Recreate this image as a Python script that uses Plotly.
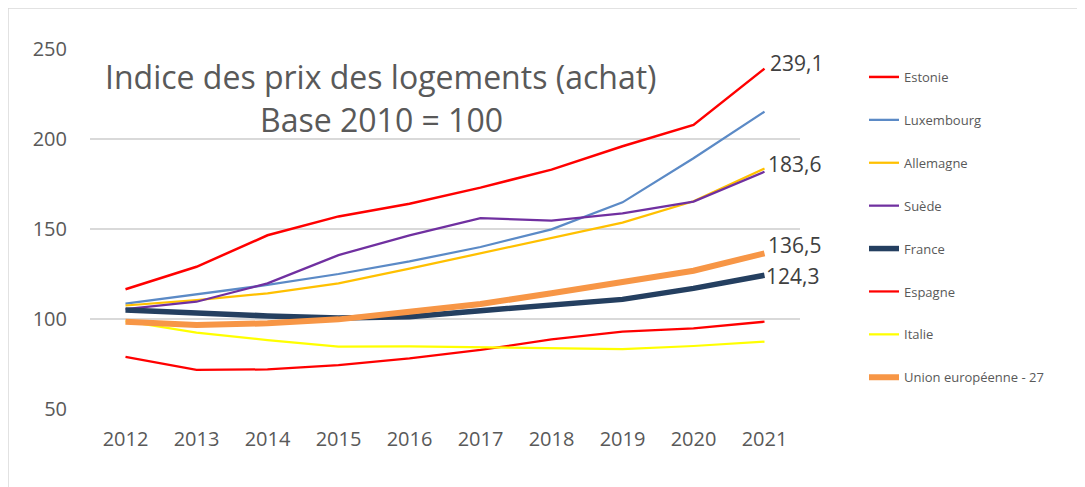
import plotly.graph_objects as go

years = ["2012", "2013", "2014", "2015", "2016", "2017", "2018", "2019", "2020", "2021"]

estonie = [116.5, 129.0, 146.5, 157.0, 164.0, 173.0, 183.0, 196.0, 207.8, 239.1]
luxembourg = [108.5, 113.9, 118.9, 125.0, 132.0, 140.0, 149.8, 164.8, 189.3, 215.2]
allemagne = [107.5, 110.5, 114.3, 119.8, 128.0, 136.5, 145.4, 153.5, 165.4, 183.6]
suede = [105.5, 109.6, 119.8, 135.5, 146.5, 156.0, 154.6, 158.7, 165.2, 181.8]
france = [105.0, 103.1, 101.7, 100.5, 101.3, 104.6, 107.8, 110.9, 117.0, 124.3]
espagne = [79.0, 71.7, 72.0, 74.4, 78.1, 82.8, 88.7, 93.0, 94.8, 98.5]
italie = [98.8, 92.4, 88.3, 84.6, 84.8, 84.3, 83.7, 83.3, 85.0, 87.4]
ue27 = [98.5, 96.7, 97.6, 99.8, 104.0, 108.3, 114.3, 120.2, 126.8, 136.5]

series = [
    ("Estonie", estonie, "#FF0000", 2.5),
    ("Luxembourg", luxembourg, "#5B8AC6", 2.25),
    ("Allemagne", allemagne, "#FFC000", 2.25),
    ("Suède", suede, "#7030A0", 2.25),
    ("France", france, "#243F60", 5.5),
    ("Espagne", espagne, "#FF0000", 2.25),
    ("Italie", italie, "#FFFF00", 2.25),
    ("Union européenne - 27", ue27, "#F79646", 6),
]

value_labels = [
    ("239,1", estonie[-1], 3, 6),
    ("183,6", allemagne[-1], 1, 5),
    ("136,5", ue27[-1], 1, 8),
    ("124,3", france[-1], -1, -1),
]

title_line1 = "Indice des prix des logements (achat)"
title_line2 = "Base 2010 = 100"

FONT = "Open Sans"
GREY = "#595959"

fig = go.Figure()
for name, vals, color, w in series:
    fig.add_trace(go.Scatter(
        x=years, y=vals, mode="lines", name=name, legendgroup=name,
        line=dict(color=color, width=w),
    ))

# page body has an 8px margin: work in screen pixels, subtract it
OFF = 8
W, H = 1085 - OFF, 487 - OFF
ml, mt = 90 - OFF, 49 - OFF
pw, ph = 710, 360
mr = W - ml - pw
mb = H - mt - ph

def px_x(p):
    return (p - OFF - ml) / pw

def px_y(p):
    return 1 - (p - OFF - mt) / ph

annotations = [
    dict(text=title_line1, x=px_x(381), y=px_y(77), xref="paper", yref="paper",
         xanchor="center", yanchor="middle", showarrow=False,
         font=dict(family=FONT, size=32, color=GREY)),
    dict(text=title_line2, x=px_x(381), y=px_y(120), xref="paper", yref="paper",
         xanchor="center", yanchor="middle", showarrow=False,
         font=dict(family=FONT, size=32, color=GREY)),
]
last_idx = len(years) - 1
for txt, v, xs, ys in value_labels:
    annotations.append(dict(
        text=txt, x=last_idx, y=v, xref="x", yref="y", xanchor="left",
        yanchor="middle", xshift=xs, yshift=ys, showarrow=False,
        font=dict(family=FONT, size=21, color="#404040"),
    ))

fig.update_layout(
    width=W, height=H,
    margin=dict(l=ml, r=mr, t=mt, b=mb),
    paper_bgcolor="white", plot_bgcolor="white",
    font=dict(family=FONT, color=GREY),
    showlegend=True,
    legend=dict(
        x=px_x(864), y=px_y(62), xanchor="left", yanchor="top",
        traceorder="grouped", tracegroupgap=23,
        font=dict(family=FONT, size=13, color=GREY),
        bgcolor="rgba(0,0,0,0)",
    ),
    xaxis=dict(
        type="category", range=[-0.5, 9.5], showgrid=False, zeroline=False,
        showline=False, ticks="", tickfont=dict(family=FONT, size=20, color=GREY),
        ticklabelstandoff=16,
    ),
    yaxis=dict(
        range=[50, 250], dtick=50, tick0=50, showgrid=True, gridcolor="#D9D9D9",
        gridwidth=1.5, zeroline=False, showline=False, ticks="",
        tickfont=dict(family=FONT, size=20, color=GREY), ticklabelstandoff=22,
    ),
    annotations=annotations,
    shapes=[dict(
        type="rect", xref="paper", yref="paper",
        x0=px_x(8), x1=px_x(1110), y0=px_y(520), y1=px_y(8),
        line=dict(color="#D9D9D9", width=1.5), layer="below",
    )],
)

fig.write_html("out.html")
